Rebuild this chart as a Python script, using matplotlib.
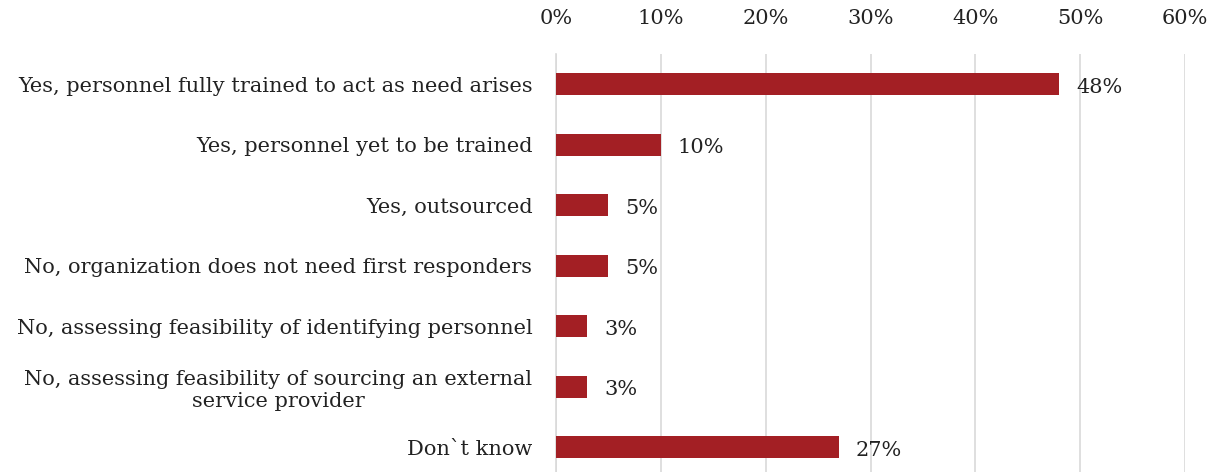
import matplotlib.pyplot as plt
import numpy as np

categories = [
    'Yes, personnel fully trained to act as need arises',
    'Yes, personnel yet to be trained',
    'Yes, outsourced',
    'No, organization does not need first responders',
    'No, assessing feasibility of identifying personnel',
    'No, assessing feasibility of sourcing an external\nservice provider',
    'Don`t know',
]
values = [48, 10, 5, 5, 3, 3, 27]
xticks = [0, 10, 20, 30, 40, 50, 60]

bar_color = '#A31F24'
text_color = '#222222'

plt.rcParams['font.family'] = ['DejaVu Serif']

fig = plt.figure(figsize=(12.2, 4.72), dpi=100)
ax = fig.add_axes([556 / 1220, 0, (1185 - 556) / 1220, 1 - 54 / 472])

y = np.arange(len(categories))
ax.barh(y, values, height=0.36, color=bar_color, zorder=3)

# value labels just right of each bar
for yi, v in zip(y, values):
    ax.text(v + 1.6, yi + 0.05, f'{v}%', va='center', ha='left',
            fontsize=15, color=text_color)

ax.set_xlim(0, 60)
ax.set_ylim(6.41, -0.5)
ax.set_xticks(xticks)
ax.set_xticklabels([f'{t}%' for t in xticks])
ax.xaxis.tick_top()
ax.tick_params(axis='x', length=0, pad=19, labelsize=15, labelcolor=text_color)
ax.set_yticks(y)
ax.set_yticklabels(categories)
ax.tick_params(axis='y', length=0, pad=17, labelsize=15, labelcolor=text_color)
for lbl in ax.get_yticklabels():
    lbl.set_multialignment('center')
    lbl.set_linespacing(1.2)

ax.grid(axis='x', color='#D9D9D9', linewidth=1.2, zorder=0)
for side in ['top', 'right', 'bottom']:
    ax.spines[side].set_visible(False)
ax.spines['left'].set_color('#D9D9D9')
ax.spines['left'].set_linewidth(1.2)

fig.savefig('out.png', dpi=100)
